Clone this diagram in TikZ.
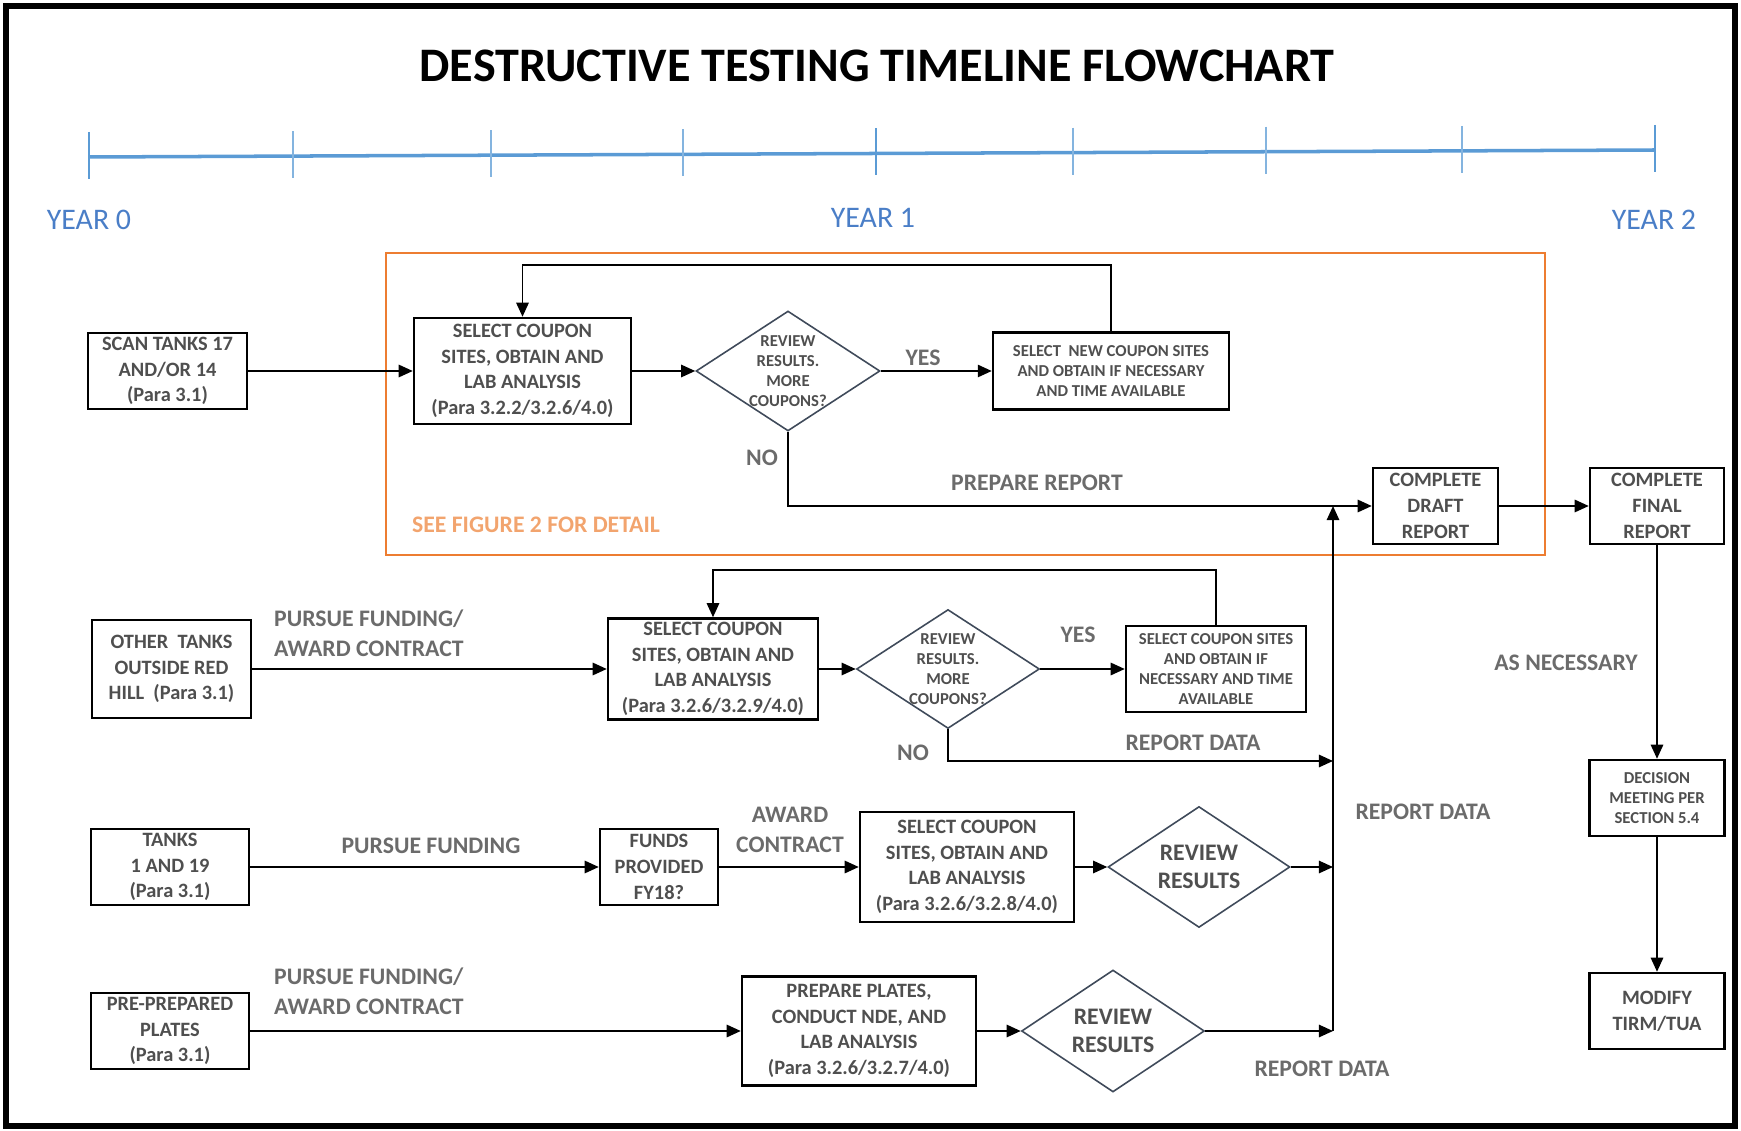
\documentclass[tikz,border=0pt]{standalone}
\usepackage{fontspec}
\setmainfont{Carlito}
\usetikzlibrary{shapes.geometric,arrows.meta}

\definecolor{boxgray}{HTML}{4F4F4F}
\definecolor{lblgray}{HTML}{6B6B6B}
\definecolor{tlblue}{HTML}{5B9BD5}
\definecolor{yearblue}{HTML}{4A7EC7}
\definecolor{figorange}{HTML}{ED7D31}
\definecolor{figtext}{HTML}{F2A46E}
\definecolor{diagray}{HTML}{3F4A5A}

\tikzset{
  box/.style={draw=black, line width=1.4pt, fill=white, inner sep=1pt, align=center,
    text=boxgray, font=\bfseries\fontsize{11.6}{14.6}\selectfont},
  smallbox/.style={box, font=\bfseries\fontsize{9.5}{11.4}\selectfont},
  decide/.style={diamond, draw=diagray, line width=0.9pt, fill=white, inner sep=-6pt, align=center,
    text=boxgray, font=\bfseries\fontsize{9.5}{11.4}\selectfont},
  decidebig/.style={decide, font=\bfseries\fontsize{13.5}{16}\selectfont},
  lbl/.style={text=lblgray, font=\bfseries\fontsize{13.5}{17}\selectfont, align=center, inner sep=0pt},
  year/.style={text=yearblue, font=\fontsize{17}{20}\selectfont, inner sep=0pt},
  arr/.style={line width=1.1pt, -{Triangle[length=8pt,width=7pt]}},
}

\begin{document}
\begin{tikzpicture}[x=0.02cm, y=-0.02cm]
    \useasboundingbox (0,0) rectangle (1741,1131);
    \draw[line width=3.4pt] (6,6) rectangle (1735,1126);

    % title and timeline
    \node[font=\bfseries\fontsize{27.4}{31}\selectfont] (title) at (877,66) {DESTRUCTIVE TESTING TIMELINE FLOWCHART};
    \draw[tlblue, line width=2pt] (89,157) -- (1655,150);
    \foreach \x in {293,491,683,1073,1266,1462} {
        \pgfmathsetmacro\yc{157-7*(\x-89)/1566}
        \draw[tlblue!75, line width=0.6pt] (\x,\yc-25) -- (\x,\yc+22);
    }
    \foreach \x in {89,876,1655} {
        \pgfmathsetmacro\yc{157-7*(\x-89)/1566}
        \draw[tlblue, line width=1.3pt] (\x,\yc-25) -- (\x,\yc+22);
    }
    \node[year] (y0) at (89,220) {YEAR 0};
    \node[year] (y1) at (873,218) {YEAR 1};
    \node[year] (y2) at (1654,220) {YEAR 2};

    % figure 2 frame
    \draw[figorange, line width=1.4pt] (386,253) rectangle (1545,555);
    \node[lbl, text=figtext] (seefig) at (536,525) {SEE FIGURE 2 FOR DETAIL};

    % row 1
    \node[box, minimum width=3.18cm, minimum height=1.52cm] (scan) at (167.5,371) {SCAN TANKS 17\\AND/OR 14\\(Para 3.1)};
    \node[box, minimum width=4.34cm, minimum height=2.12cm] (sel1) at (522.5,371) {SELECT COUPON\\SITES, OBTAIN AND\\LAB ANALYSIS\\(Para 3.2.2/3.2.6/4.0)};
    \node[decide, minimum width=3.68cm, minimum height=2.4cm] (dia1) at (788,371) {REVIEW\\RESULTS.\\MORE\\COUPONS?};
    \node[smallbox, minimum width=4.72cm, minimum height=1.54cm] (new1) at (1111,371) {SELECT\ \ NEW COUPON SITES\\AND OBTAIN IF NECESSARY\\AND TIME AVAILABLE};
    \node[box, minimum width=2.5cm, minimum height=1.52cm] (draft) at (1435.5,506) {COMPLETE\\DRAFT\\REPORT};
    \node[box, minimum width=2.68cm, minimum height=1.52cm] (final) at (1657,506) {COMPLETE\\FINAL\\REPORT};
    \node[smallbox, minimum width=2.7cm, minimum height=1.52cm] (decision) at (1657,798) {DECISION\\MEETING PER\\SECTION 5.4};
    \node[box, minimum width=2.7cm, minimum height=1.52cm] (modify) at (1657,1011) {MODIFY\\TIRM/TUA};
    \coordinate (loop1) at (800,265);

    % row 2
    \node[box, minimum width=3.18cm, minimum height=1.96cm] (other) at (171.5,669) {OTHER\ \ TANKS\\OUTSIDE RED\\HILL\ \ (Para 3.1)};
    \node[box, minimum width=4.2cm, minimum height=2.02cm] (sel2) at (713,669) {SELECT COUPON\\SITES, OBTAIN AND\\LAB ANALYSIS\\(Para 3.2.6/3.2.9/4.0)};
    \node[decide, minimum width=3.66cm, minimum height=2.38cm] (dia2) at (948,669) {REVIEW\\RESULTS.\\MORE\\COUPONS?};
    \node[smallbox, minimum width=3.6cm, minimum height=1.72cm] (new2) at (1216,669) {SELECT COUPON SITES\\AND OBTAIN IF\\NECESSARY AND TIME\\AVAILABLE};
    \coordinate (loop2) at (960,570);

    % row 3
    \node[box, minimum width=3.16cm, minimum height=1.52cm] (tanks) at (170,867) {TANKS\\1 AND 19\\(Para 3.1)};
    \node[box, minimum width=2.36cm, minimum height=1.52cm] (funds) at (659,867) {FUNDS\\PROVIDED\\FY18?};
    \node[box, minimum width=4.28cm, minimum height=2.2cm] (sel3) at (967,867) {SELECT COUPON\\SITES, OBTAIN AND\\LAB ANALYSIS\\(Para 3.2.6/3.2.8/4.0)};
    \node[decidebig, minimum width=3.64cm, minimum height=2.42cm] (dia3) at (1199,867) {REVIEW\\RESULTS};

    % row 4
    \node[box, minimum width=3.16cm, minimum height=1.52cm] (pre) at (170,1031) {PRE-PREPARED\\PLATES\\(Para 3.1)};
    \node[box, minimum width=4.68cm, minimum height=2.18cm] (prep) at (859,1031) {PREPARE PLATES,\\CONDUCT NDE, AND\\LAB ANALYSIS\\(Para 3.2.6/3.2.7/4.0)};
    \node[decidebig, minimum width=3.66cm, minimum height=2.44cm] (dia4) at (1113,1031) {REVIEW\\RESULTS};

    % collector
    \coordinate (bus2) at (1333,761);
    \coordinate (bus3) at (1333,867);
    \coordinate (bus4) at (1333,1031);
    \coordinate (bustop) at (1333,506);

    % connectors
    \draw[arr] (scan) -- (sel1);
    \draw[arr] (sel1) -- (dia1);
    \draw[arr] (dia1) -- (new1);
    \draw[arr] (new1.north) |- (loop1) -| (sel1.north);
    \draw[arr] (dia1.south) |- (draft.west);
    \draw[arr] (draft) -- (final);
    \draw[arr] (final) -- (decision);
    \draw[arr] (decision) -- (modify);
    \draw[arr] (other) -- (sel2);
    \draw[arr] (sel2) -- (dia2);
    \draw[arr] (dia2) -- (new2);
    \draw[arr] (new2.north) |- (loop2) -| (sel2.north);
    \draw[arr] (dia2.south) |- (bus2);
    \draw[arr] (tanks) -- (funds);
    \draw[arr] (funds) -- (sel3);
    \draw[arr] (sel3) -- (dia3);
    \draw[arr] (dia3) -- (bus3);
    \draw[arr] (pre) -- (prep);
    \draw[arr] (prep) -- (dia4);
    \draw[arr] (dia4) -- (bus4);
    \draw[arr] (bus4) -- (bustop);

    % labels
    \node[lbl] (yes1) at (923,358) {YES};
    \node[lbl] (no1) at (762,458) {NO};
    \node[lbl] (prepare) at (1037,483) {PREPARE REPORT};
    \node[lbl, align=left] (pursue2) at (369,633) {PURSUE FUNDING/\\AWARD CONTRACT};
    \node[lbl] (yes2) at (1078,635) {YES};
    \node[lbl] (no2) at (913,753) {NO};
    \node[lbl] (rd2) at (1193,743) {REPORT DATA};
    \node[lbl] (rdbus) at (1423,812) {REPORT DATA};
    \node[lbl] (pursue3) at (431,846) {PURSUE FUNDING};
    \node[lbl] (award3) at (790,830) {AWARD\\CONTRACT};
    \node[lbl, align=left] (pursue4) at (369,991) {PURSUE FUNDING/\\AWARD CONTRACT};
    \node[lbl] (rd4) at (1322,1069) {REPORT DATA};
    \node[lbl] (asnec) at (1566,663) {AS NECESSARY};
\end{tikzpicture}
\end{document}
